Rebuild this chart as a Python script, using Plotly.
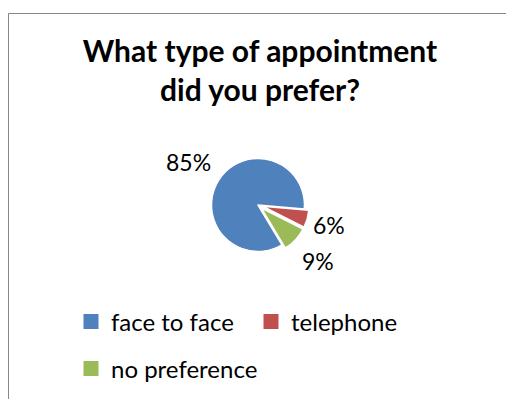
import math
import plotly.graph_objects as go

categories = ["face to face", "telephone", "no preference"]
values = [85, 6, 9]
colors = ["#4F81BD", "#C0504D", "#9BBB59"]
pulls = [0, 0.1, 0.1]
title_text = "What type of appointment<br>did you prefer?"

# style: distance (px) of each data label from the pie centre
label_dist = [82, 74, 82]

W, H = 506, 399
FONT = "Lato, 'Open Sans', sans-serif"
ROTATION = 149

fig = go.Figure()

# pie
cx, cy, r = 258, 205, 46.5
half = r * (1 + max(pulls))
fig.add_trace(go.Pie(
    labels=categories, values=values, sort=False, direction="clockwise",
    rotation=ROTATION, pull=pulls,
    marker=dict(colors=colors, line=dict(color="white", width=1.5)),
    textinfo="none",
    showlegend=False, hoverinfo="label+percent",
    domain=dict(x=[(cx - half) / W, (cx + half) / W],
                y=[(H - cy - half) / H, (H - cy + half) / H]),
))

# data labels placed along each slice's bisector
total = sum(values)
annotations = []
start = ROTATION
for v, d in zip(values, label_dist):
    span = v / total * 360
    mid = math.radians(start + span / 2)
    start += span
    px = cx + d * math.sin(mid)
    py = cy - d * math.cos(mid)
    annotations.append(dict(
        text=f"{v / total * 100:.0f}%", x=px / W, y=1 - py / H,
        xref="paper", yref="paper", xanchor="center", yanchor="middle",
        showarrow=False, font=dict(family=FONT, size=23, color="#000000"),
    ))

# legend entries (two rows)
legend_of = ["legend", "legend", "legend2"]
for name, col, lg in zip(categories, colors, legend_of):
    fig.add_trace(go.Scatter(
        x=[None], y=[None], mode="markers", name=name,
        marker=dict(symbol="square", size=15, color=col),
        legend=lg, hoverinfo="skip",
    ))

legend_common = dict(
    orientation="h", xanchor="left", yanchor="middle",
    font=dict(family=FONT, size=24, color="#000000"),
    bgcolor="rgba(0,0,0,0)", itemclick=False, itemdoubleclick=False,
)

fig.update_layout(
    width=W, height=H,
    margin=dict(l=0, r=0, t=0, b=0),
    paper_bgcolor="white", plot_bgcolor="white",
    title=dict(text=title_text, x=260 / W, xanchor="center",
               y=1 - 62 / H, yanchor="top", yref="container",
               font=dict(family=FONT, size=30, color="#000000", weight="bold")),
    xaxis=dict(visible=False), yaxis=dict(visible=False),
    annotations=annotations,
    legend=dict(x=71 / W, y=1 - 322 / H, entrywidth=135, **legend_common),
    legend2=dict(x=71 / W, y=1 - 369 / H, **legend_common),
    shapes=[
        dict(type="line", xref="paper", yref="paper", x0=8.5 / W, x1=1, y0=1 - 13.5 / H, y1=1 - 13.5 / H,
             line=dict(color="#878787", width=1)),
        dict(type="line", xref="paper", yref="paper", x0=8.5 / W, x1=8.5 / W, y0=0, y1=1 - 13.5 / H,
             line=dict(color="#878787", width=1)),
    ],
)

fig.write_html("out.html")
